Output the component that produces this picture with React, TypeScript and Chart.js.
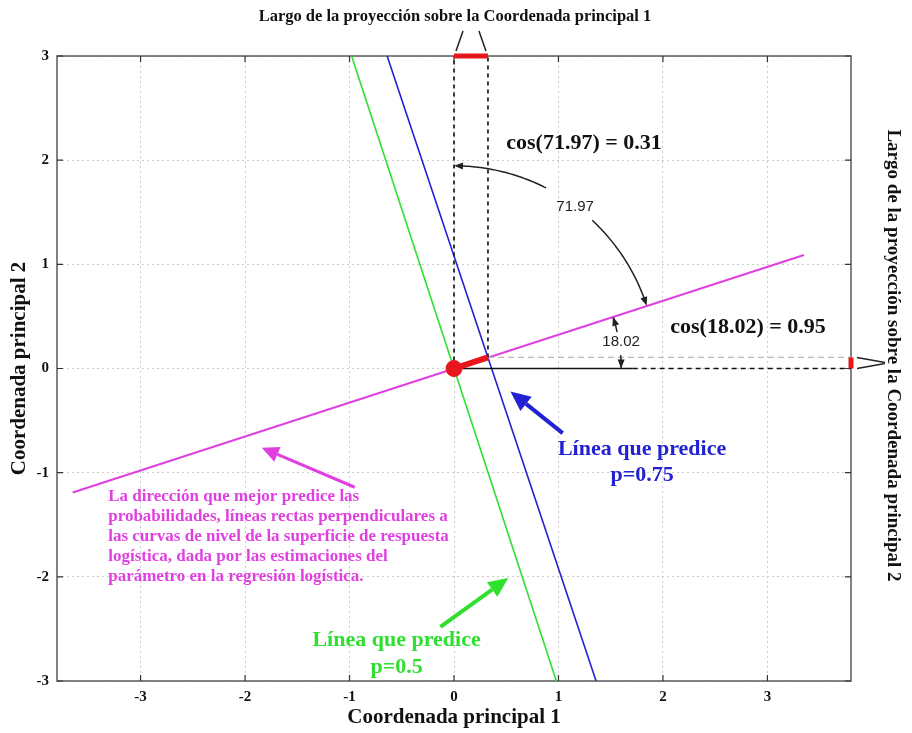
import React, { useEffect, useRef } from 'react';
import { Chart, registerables } from 'chart.js';

Chart.register(...registerables);

// Axis ranges and tick positions
const xRange = [-3.8, 3.8];
const yRange = [-3, 3];
const tickValues = [-3, -2, -1, 0, 1, 2, 3];

// Axis and side titles
const xTitle = 'Coordenada principal 1';
const yTitle = 'Coordenada principal 2';
const topTitle = 'Largo de la proyección sobre la Coordenada principal 1';
const rightTitle = 'Largo de la proyección sobre la Coordenada principal 2';

// Direction that best predicts the probabilities (magenta)
const directionX = [-3.65, 3.35];
const directionY = [-1.19, 1.09];

// Level lines of the logistic response surface
const p50X = [-0.98, 0.98];
const p50Y = [3, -3];
const p75X = [-0.64, 1.36];
const p75Y = [3, -3];

// Projection of the p=0.75 crossing onto each coordinate
const projX = [0, 0.325];
const projY = [0, 0.106];

// Reference horizontal through the origin: solid part, then dashed to the edge
const baseSolidX = [0, 1.71];
const baseDashX = [1.71, 3.8];

// Angles (degrees) between the direction and each axis
const angleToX = 18.02;
const angleToY = 71.97;
const angleLabels = ['18.02', '71.97'];
const cosLabels = ['cos(71.97) = 0.31', 'cos(18.02) = 0.95'];

// Arc radii (in x units) for the angle markers
const arcBigR = 1.94;
const arcSmallR = 1.6;

// Annotation texts
const blueText = ['Línea que predice', 'p=0.75'];
const greenText = ['Línea que predice', 'p=0.5'];
const magentaText = [
  'La dirección que mejor predice las',
  'probabilidades, líneas rectas perpendiculares a',
  'las curvas de nivel de la superficie de respuesta',
  'logística, dada por las estimaciones del',
  'parámetro en la regresión logística.',
];

// Annotation anchors in data coordinates
const cos72At = [0.5, 2.16];
const cos18At = [2.07, 0.4];
const blueTextAt = [1.8, -0.78];
const greenTextAt = [-0.55, -2.61];
const magentaTextAt = [-3.31, -1.23];
const blueArrow = [1.04, -0.62, 0.54, -0.22];
const greenArrow = [-0.13, -2.48, 0.52, -2.01];
const magentaArrow = [-0.95, -1.14, -1.84, -0.76];

const RED = '#e8161c';
const GREEN = '#2fe02f';
const BLUE = '#2222d4';
const MAGENTA = '#e040e0';
const SERIF = '"Liberation Serif", "Times New Roman", serif';
const SANS = '"Liberation Sans", Arial, sans-serif';

const pts = (xs: number[], ys: number[]) => xs.map((v, i) => ({ x: v, y: ys[i] }));

function drawArrow(ctx: CanvasRenderingContext2D, x1: number, y1: number, x2: number, y2: number,
  color: string, width: number, headLen: number, headW: number) {
  const a = Math.atan2(y2 - y1, x2 - x1);
  const bx = x2 - headLen * Math.cos(a);
  const by = y2 - headLen * Math.sin(a);
  ctx.strokeStyle = color;
  ctx.lineWidth = width;
  ctx.beginPath();
  ctx.moveTo(x1, y1);
  ctx.lineTo(bx, by);
  ctx.stroke();
  ctx.fillStyle = color;
  ctx.beginPath();
  ctx.moveTo(x2, y2);
  ctx.lineTo(bx + headW * Math.sin(a), by - headW * Math.cos(a));
  ctx.lineTo(bx - headW * Math.sin(a), by + headW * Math.cos(a));
  ctx.closePath();
  ctx.fill();
}

// Arc around (cx, cy) from one angle to another, with an arrowhead at the end angle
function drawArcArrow(ctx: CanvasRenderingContext2D, cx: number, cy: number, r: number,
  fromDeg: number, toDeg: number) {
  const n = 40;
  const p: number[][] = [];
  for (let i = 0; i <= n; i++) {
    const t = ((fromDeg + ((toDeg - fromDeg) * i) / n) * Math.PI) / 180;
    p.push([cx + r * Math.cos(t), cy - r * Math.sin(t)]);
  }
  const end = p[n];
  const prev = p[n - 3];
  ctx.strokeStyle = '#222';
  ctx.lineWidth = 1.5;
  ctx.beginPath();
  ctx.moveTo(p[0][0], p[0][1]);
  for (let i = 1; i < n - 2; i++) ctx.lineTo(p[i][0], p[i][1]);
  ctx.stroke();
  drawArrow(ctx, prev[0], prev[1], end[0], end[1], '#222', 1.5, 9, 3.5);
}

const frameAndTicks = {
  id: 'frameAndTicks',
  beforeDatasetsDraw(chart: any) {
    const { ctx, chartArea: a, scales } = chart;
    const sx = scales.x;
    const sy = scales.y;
    ctx.save();
    ctx.strokeStyle = '#5a5a5a';
    ctx.lineWidth = 1.5;
    ctx.strokeRect(a.left, a.top, a.right - a.left, a.bottom - a.top);
    ctx.strokeStyle = '#333';
    ctx.lineWidth = 1.2;
    ctx.beginPath();
    tickValues.forEach((v) => {
      const X = sx.getPixelForValue(v);
      ctx.moveTo(X, a.bottom); ctx.lineTo(X, a.bottom - 6);
      ctx.moveTo(X, a.top); ctx.lineTo(X, a.top + 6);
      const Y = sy.getPixelForValue(v);
      ctx.moveTo(a.left, Y); ctx.lineTo(a.left + 6, Y);
      ctx.moveTo(a.right, Y); ctx.lineTo(a.right - 6, Y);
    });
    ctx.stroke();
    ctx.restore();
  },
};

const annotations = {
  id: 'annotations',
  afterDraw(chart: any) {
    const { ctx, chartArea: a, scales } = chart;
    const px = (v: number) => scales.x.getPixelForValue(v);
    const py = (v: number) => scales.y.getPixelForValue(v);
    const ox = px(0);
    const oy = py(0);
    const unit = px(1) - px(0);
    ctx.save();

    // Side titles
    ctx.fillStyle = '#111';
    ctx.font = `bold 16.5px ${SERIF}`;
    ctx.textAlign = 'center';
    ctx.textBaseline = 'middle';
    ctx.fillText(topTitle, (px(projX[0]) + px(projX[1])) / 2 - 16, 17);
    ctx.save();
    ctx.translate(893, (a.top + a.bottom) / 2 - 13);
    ctx.rotate(Math.PI / 2);
    ctx.font = `bold 19px ${SERIF}`;
    ctx.fillText(rightTitle, 0, 0);
    ctx.restore();

    // Brackets pointing at the projected lengths
    ctx.strokeStyle = '#222';
    ctx.lineWidth = 1.5;
    const x0 = px(projX[0]);
    const x1 = px(projX[1]);
    ctx.beginPath();
    ctx.moveTo(x0 + 2, a.top - 5); ctx.lineTo(x0 + 9, a.top - 25);
    ctx.moveTo(x1 - 2, a.top - 5); ctx.lineTo(x1 - 9, a.top - 25);
    const y0 = py(projY[0]);
    const y1 = py(projY[1]);
    ctx.moveTo(a.right + 6, y1); ctx.lineTo(a.right + 34, y1 + 5);
    ctx.moveTo(a.right + 6, y0); ctx.lineTo(a.right + 34, y0 - 5);
    ctx.stroke();

    // Angle markers
    const rBig = arcBigR * unit;
    drawArcArrow(ctx, ox, oy, rBig, 63, 90);
    drawArcArrow(ctx, ox, oy, rBig, 47, angleToX);
    const rSmall = arcSmallR * unit;
    drawArcArrow(ctx, ox, oy, rSmall, 4.6, 0);
    drawArcArrow(ctx, ox, oy, rSmall, 12.6, angleToX);
    ctx.fillStyle = '#222';
    ctx.font = `15px ${SANS}`;
    const midBig = ((angleToX + 90) / 2) * (Math.PI / 180);
    ctx.fillText(angleLabels[1], ox + rBig * Math.cos(midBig) + 2, oy - rBig * Math.sin(midBig) + 2);
    const midSmall = (angleToX / 2) * (Math.PI / 180);
    ctx.fillText(angleLabels[0], ox + rSmall * Math.cos(midSmall) + 2, oy - rSmall * Math.sin(midSmall));

    // Cosine labels
    ctx.fillStyle = '#111';
    ctx.font = `bold 22px ${SERIF}`;
    ctx.textAlign = 'left';
    ctx.fillText(cosLabels[0], px(cos72At[0]), py(cos72At[1]));
    ctx.fillText(cosLabels[1], px(cos18At[0]), py(cos18At[1]));

    // Level-line labels and arrows
    ctx.textAlign = 'center';
    ctx.font = `bold 22px ${SERIF}`;
    ctx.fillStyle = BLUE;
    blueText.forEach((t, i) => ctx.fillText(t, px(blueTextAt[0]), py(blueTextAt[1]) + i * 26));
    drawArrow(ctx, px(blueArrow[0]), py(blueArrow[1]), px(blueArrow[2]), py(blueArrow[3]), BLUE, 4, 20, 9);
    ctx.fillStyle = GREEN;
    greenText.forEach((t, i) => ctx.fillText(t, px(greenTextAt[0]), py(greenTextAt[1]) + i * 27));
    drawArrow(ctx, px(greenArrow[0]), py(greenArrow[1]), px(greenArrow[2]), py(greenArrow[3]), GREEN, 4, 20, 9);

    // Direction description
    ctx.fillStyle = MAGENTA;
    ctx.textAlign = 'left';
    ctx.font = `bold 17px ${SERIF}`;
    magentaText.forEach((t, i) => ctx.fillText(t, px(magentaTextAt[0]), py(magentaTextAt[1]) + i * 20));
    drawArrow(ctx, px(magentaArrow[0]), py(magentaArrow[1]), px(magentaArrow[2]), py(magentaArrow[3]), MAGENTA, 3, 17, 8);

    ctx.restore();
  },
};

const line = (data: any[], color: string, width: number, order: number, extra: any = {}) => ({
  data,
  showLine: true,
  borderColor: color,
  backgroundColor: color,
  borderWidth: width,
  pointRadius: 0,
  order,
  ...extra,
});

export default function App() {
  const ref = useRef<HTMLCanvasElement>(null);

  useEffect(() => {
    document.body.style.margin = '0';
    const canvas = ref.current;
    if (!canvas) return;
    const fontTick = { family: SERIF, weight: 'bold' as const, size: 15 };
    const fontTitle = { family: SERIF, weight: 'bold' as const, size: 21 };
    const chart = new Chart(canvas, {
      type: 'scatter',
      data: {
        datasets: [
          {
            data: [{ x: projX[0], y: projY[0] }],
            pointRadius: 8,
            pointBackgroundColor: RED,
            pointBorderColor: RED,
            order: 0,
          } as any,
          line(pts(projX, projY), RED, 6, 1),
          line(pts(projX, [yRange[1], yRange[1]]), RED, 5, 1, { clip: false }),
          line(pts([xRange[1], xRange[1]], projY), RED, 5, 1, { clip: false }),
          line(pts(baseSolidX, [0, 0]), '#111', 1.6, 2),
          line(pts(baseDashX, [0, 0]), '#111', 1.6, 2, { borderDash: [5, 4] }),
          line(pts([projX[0], projX[0]], [projY[0], yRange[1]]), '#222', 1.8, 2, { borderDash: [4, 4] }),
          line(pts([projX[1], projX[1]], [projY[1], yRange[1]]), '#222', 1.8, 2, { borderDash: [4, 4] }),
          line(pts([projX[1], xRange[1]], [projY[1], projY[1]]), '#b8b8b8', 1.2, 3, { borderDash: [6, 4] }),
          line(pts(directionX, directionY), MAGENTA, 2, 4),
          line(pts(p50X, p50Y), GREEN, 1.6, 4),
          line(pts(p75X, p75Y), BLUE, 1.6, 4),
        ],
      },
      options: {
        responsive: false,
        animation: false,
        events: [],
        layout: { padding: { top: 56, right: 61, left: 0, bottom: 0 } },
        plugins: { legend: { display: false }, tooltip: { enabled: false } },
        scales: {
          x: {
            type: 'linear',
            min: xRange[0],
            max: xRange[1],
            afterBuildTicks: (s: any) => { s.ticks = tickValues.map((v) => ({ value: v })); },
            afterFit: (s: any) => { s.height = 52; },
            grid: { color: '#cccccc', lineWidth: 1, drawTicks: false },
            border: { display: false, dash: [2, 3] },
            ticks: { padding: 7, color: '#111', font: fontTick, maxRotation: 0, autoSkip: false },
            title: { display: true, text: xTitle, color: '#111', font: fontTitle, padding: { top: 0, bottom: 3 } },
          },
          y: {
            type: 'linear',
            min: yRange[0],
            max: yRange[1],
            afterBuildTicks: (s: any) => { s.ticks = tickValues.map((v) => ({ value: v })); },
            afterFit: (s: any) => { s.width = 57; },
            grid: { color: '#cccccc', lineWidth: 1, drawTicks: false },
            border: { display: false, dash: [2, 3] },
            ticks: { padding: 8, color: '#111', font: fontTick, autoSkip: false },
            title: { display: true, text: yTitle, color: '#111', font: fontTitle, padding: { top: 7, bottom: 0 } },
          },
        },
      } as any,
      plugins: [frameAndTicks, annotations],
    });
    return () => chart.destroy();
  }, []);

  return <canvas ref={ref} width={912} height={733} style={{ display: 'block' }} />;
}
